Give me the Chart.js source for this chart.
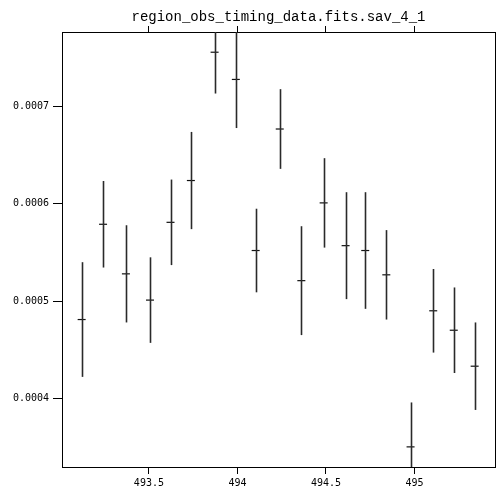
<!DOCTYPE html>
<html lang="en">
<head>
  <meta charset="UTF-8">
  <title>region_obs_timing_data.fits.sav_4_1</title>
  <script src="https://cdn.jsdelivr.net/npm/chart.js"></script>
  <style>
    html, body {
      margin: 0;
      padding: 0;
      background: #fff;
      overflow: hidden;
    }
    .chart-box {
      width: 496px;
      height: 488px;
    }
  </style>
</head>
<body>
  <div class="chart-box">
    <canvas id="timingChart"></canvas>
  </div>

  <script>
    const chartTitle = 'region_obs_timing_data.fits.sav_4_1';

    // time bins and measured rate with 1-sigma errors
    const timeVals = [493.120, 493.241, 493.370, 493.506, 493.622, 493.737, 493.871, 493.991, 494.103, 494.239,
                      494.361, 494.487, 494.611, 494.722, 494.841, 494.978, 495.106, 495.222, 495.340];
    const rateVals = [4.81e-4, 5.79e-4, 5.28e-4, 5.01e-4, 5.81e-4, 6.24e-4, 7.56e-4, 7.28e-4, 5.52e-4, 6.77e-4,
                      5.21e-4, 6.01e-4, 5.57e-4, 5.52e-4, 5.27e-4, 3.50e-4, 4.90e-4, 4.70e-4, 4.33e-4];
    const errVals = [0.59e-4, 0.445e-4, 0.50e-4, 0.44e-4, 0.44e-4, 0.50e-4, 0.425e-4, 0.50e-4, 0.43e-4, 0.41e-4,
                     0.56e-4, 0.46e-4, 0.55e-4, 0.60e-4, 0.46e-4, 0.457e-4, 0.43e-4, 0.44e-4, 0.45e-4];

    const xTicks = [493.5, 494, 494.5, 495];
    const yTicks = [0.0004, 0.0005, 0.0006, 0.0007];

    const points = timeVals.map((t, i) => ({ x: t, y: rateVals[i], err: errVals[i] }));

    // vertical error bars, clipped to the plot box
    const errorBars = {
      id: 'errorBars',
      afterDatasetsDraw(chart) {
        const { ctx, chartArea, scales } = chart;
        ctx.save();
        ctx.beginPath();
        ctx.rect(chartArea.left, chartArea.top, chartArea.right - chartArea.left, chartArea.bottom - chartArea.top);
        ctx.clip();
        ctx.strokeStyle = '#2a2a2a';
        ctx.lineWidth = 1.6;
        points.forEach(p => {
          const px = Math.round(scales.x.getPixelForValue(p.x)) + 0.5;
          ctx.beginPath();
          ctx.moveTo(px, scales.y.getPixelForValue(p.y - p.err));
          ctx.lineTo(px, scales.y.getPixelForValue(p.y + p.err));
          ctx.stroke();
        });
        ctx.restore();
      }
    };

    const plotTitle = {
      id: 'plotTitle',
      afterDraw(chart) {
        const { ctx, chartArea } = chart;
        ctx.save();
        ctx.fillStyle = '#000';
        ctx.font = '14px "Liberation Mono", monospace';
        ctx.textAlign = 'center';
        ctx.textBaseline = 'middle';
        ctx.fillText(chartTitle, (chartArea.left + chartArea.right) / 2, 17);
        ctx.restore();
      }
    };

    const tickFont = { family: '"DejaVu Sans Mono", monospace', size: 10 };

    new Chart(document.getElementById('timingChart').getContext('2d'), {
      type: 'scatter',
      data: {
        datasets: [{
          data: points,
          showLine: false,
          pointStyle: 'line',
          pointRadius: 4,
          borderWidth: 1.2,
          borderColor: '#111',
          backgroundColor: '#111'
        }]
      },
      options: {
        responsive: true,
        maintainAspectRatio: false,
        animation: false,
        layout: { autoPadding: false, padding: { left: 0, right: 1, top: 0, bottom: 0 } },
        plugins: {
          legend: { display: false },
          tooltip: { enabled: false }
        },
        scales: {
          x: {
            type: 'linear',
            position: 'bottom',
            min: 493.009,
            max: 495.455,
            afterBuildTicks: s => { s.ticks = xTicks.map(v => ({ value: v })); },
            afterFit: s => { s.height = 21; s.paddingLeft = 0; s.paddingRight = 0; },
            ticks: {
              color: '#000',
              font: tickFont,
              padding: 3,
              maxRotation: 0,
              callback: v => String(v)
            },
            grid: { drawOnChartArea: false, drawTicks: true, tickLength: 7, color: '#000' },
            border: { display: true, color: '#000', width: 1 }
          },
          x2: {
            type: 'linear',
            position: 'top',
            min: 493.009,
            max: 495.455,
            afterBuildTicks: s => { s.ticks = xTicks.map(v => ({ value: v })); },
            afterFit: s => { s.height = 32; s.paddingLeft = 0; s.paddingRight = 0; },
            ticks: { display: false },
            grid: { drawOnChartArea: false, drawTicks: true, tickLength: 6, color: '#000' },
            border: { display: true, color: '#000', width: 1 }
          },
          y: {
            type: 'linear',
            position: 'left',
            min: 0.0003293,
            max: 0.0007768,
            afterBuildTicks: s => { s.ticks = yTicks.map(v => ({ value: v })); },
            afterFit: s => { s.width = 62; s.paddingTop = 0; s.paddingBottom = 0; },
            ticks: {
              color: '#000',
              font: tickFont,
              padding: 4,
              callback: v => v.toFixed(4)
            },
            grid: { drawOnChartArea: false, drawTicks: true, tickLength: 9, color: '#000' },
            border: { display: true, color: '#000', width: 1 }
          },
          y2: {
            type: 'linear',
            position: 'right',
            min: 0.0003293,
            max: 0.0007768,
            afterFit: s => { s.width = 0; s.paddingTop = 0; s.paddingBottom = 0; },
            ticks: { display: false },
            grid: { display: false },
            border: { display: true, color: '#000', width: 1 }
          }
        }
      },
      plugins: [errorBars, plotTitle]
    });
  </script>
</body>
</html>
